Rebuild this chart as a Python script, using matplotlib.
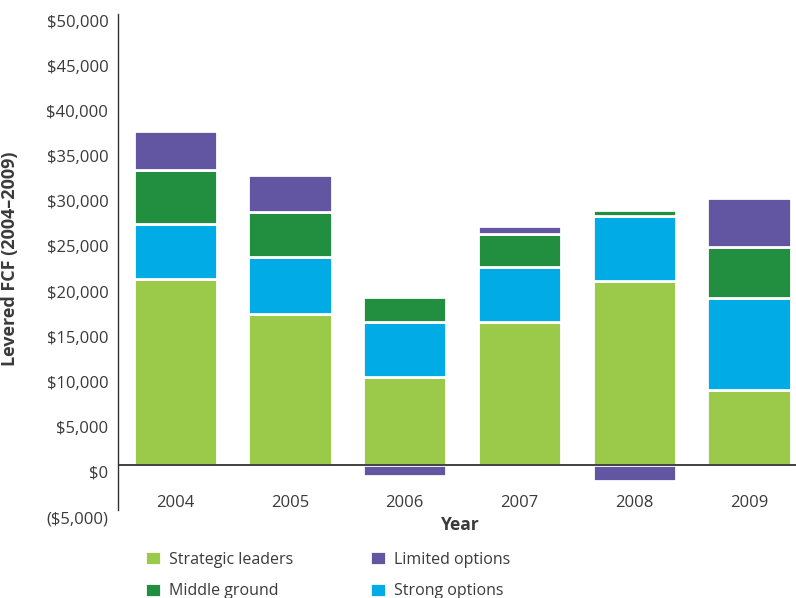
import numpy as np
import matplotlib.pyplot as plt
import matplotlib.transforms as mtransforms
from matplotlib.ticker import FuncFormatter, MultipleLocator

plt.rcParams["font.family"] = ["Open Sans", "DejaVu Sans"]

# levered free cash flow by segment, USD
years = ["2004", "2005", "2006", "2007", "2008", "2009"]
strategic_leaders = [20600, 16700, 9800, 15900, 20400, 8300]
strong_options = [6100, 6400, 6000, 6000, 7200, 10200]
middle_ground = [6000, 4900, 2800, 3700, 700, 5700]
limited_options = [4300, 4200, -1200, 900, -1800, 5400]

C_LEADERS = "#9bca4b"
C_STRONG = "#00abe6"
C_MIDDLE = "#218f3f"
C_LIMITED = "#6256a3"
TXT = "#3a3a3a"

fig = plt.figure(figsize=(7.96, 5.98), dpi=100)
ax = fig.add_axes([118 / 796, 1 - 510 / 598, 1 - 118 / 796, (510 - 14) / 598])

x = np.arange(len(years))
w = 0.725
edge = dict(edgecolor="white", linewidth=2)

sl = np.array(strategic_leaders)
so = np.array(strong_options)
mg = np.array(middle_ground)
lo = np.array(limited_options)

ax.bar(x, sl, w, color=C_LEADERS, label="Strategic leaders", **edge)
ax.bar(x, so, w, bottom=sl, color=C_STRONG, label="Strong options", **edge)
ax.bar(x, mg, w, bottom=sl + so, color=C_MIDDLE, label="Middle ground", **edge)
lo_bottom = np.where(lo < 0, 0, sl + so + mg)
ax.bar(x, lo, w, bottom=lo_bottom, color=C_LIMITED, label="Limited options", **edge)

ax.axhline(0, color="#333333", linewidth=1.3, zorder=5)

ax.set_xlim(-0.5, (796 - 176) / 114.6)
ax.set_ylim(-5000, 50000)
ax.yaxis.set_major_locator(MultipleLocator(5000))


def money(v, pos):
    if v < 0:
        return f"(${abs(v):,.0f})"
    return f"${v:,.0f}"


ax.yaxis.set_major_formatter(FuncFormatter(money))
ax.tick_params(axis="y", length=0, pad=7, labelsize=12, labelcolor=TXT)
ax.tick_params(axis="x", length=0, pad=22, labelsize=12, labelcolor=TXT)
ax.set_xticks(x)
ax.set_xticklabels(years)

# nudge the y tick labels down a little
shift = mtransforms.ScaledTranslation(0, -0.07, fig.dpi_scale_trans)
for lbl in ax.get_yticklabels():
    lbl.set_transform(lbl.get_transform() + shift)

# year labels hang from the zero line
ax.spines["bottom"].set_position(("data", 0))
for side in ["top", "right", "bottom"]:
    ax.spines[side].set_visible(False)
ax.spines["left"].set_color("#333333")
ax.spines["left"].set_linewidth(1.0)

ax.set_ylabel("Levered FCF (2004–2009)", fontsize=13, fontweight="bold",
              color=TXT)
ax.yaxis.set_label_coords((19 - 118) / 678, (510 - 259) / 496)
ax.set_xlabel("Year", fontsize=12.5, fontweight="bold", color=TXT, labelpad=0)
ax.xaxis.set_label_coords((460 - 118) / 678, -0.012)

handles, labels = ax.get_legend_handles_labels()
order = [0, 2, 3, 1]
fig.legend([handles[i] for i in order], [labels[i] for i in order],
           ncol=2, loc="upper left", bbox_to_anchor=(145 / 796, 1 - 551 / 598),
           frameon=False, fontsize=11.5, labelcolor=TXT,
           handlelength=1.0, handleheight=1.0, handletextpad=0.5,
           columnspacing=4.8, labelspacing=0.95, borderpad=0, borderaxespad=0)

fig.savefig("out.png", dpi=100)
